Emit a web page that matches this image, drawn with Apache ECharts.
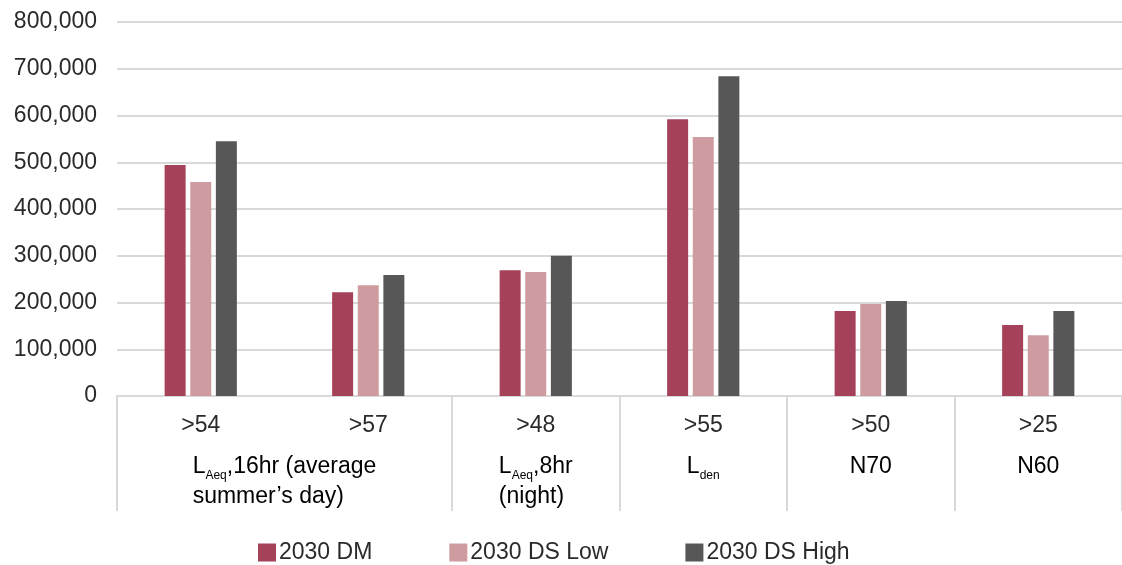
<!DOCTYPE html>
<html>
<head>
<meta charset="utf-8">
<script src="https://cdn.jsdelivr.net/npm/echarts@6/dist/echarts.min.js"></script>
<style>
html,body{margin:0;padding:0;background:#fff;}
#chart{width:1122px;height:565px;}
</style>
</head>
<body>
<div id="chart"></div>
<script>
// ---- data ----
const categories = ['>54', '>57', '>48', '>55', '>50', '>25'];
const seriesNames = ['2030 DM', '2030 DS Low', '2030 DS High'];
const dm     = [494000, 222000, 269000, 592000, 182000, 152000];
const dsLow  = [458000, 237000, 265000, 554000, 197000, 130000];
const dsHigh = [545000, 259000, 300000, 684000, 203000, 182000];
// second-level group labels: first and last category index, rich text
const groupFrom   = [0, 2, 3, 4, 5];
const groupTo     = [1, 2, 3, 4, 5];
const groupLabels = [
  '{n|L}{s|Aeq}{n|,16hr (average}\n{n|summer\u2019s day)}',
  '{n|L}{s|Aeq}{n|,8hr}\n{n|(night)}',
  '{n|L}{s|den}',
  '{n|N70}',
  '{n|N60}'
];
const yMax = 800000, yStep = 100000;

const FONT = '"Liberation Sans", Arial, sans-serif';
const TXT = '#2a2a2a';
const GRID = '#d9d9d9';
const colors = ['#a54158', '#ce9ca0', '#575757'];

const chart = echarts.init(document.getElementById('chart'), null, {renderer: 'canvas'});

const mk = (name, data, i) => ({
  name, type: 'bar', data,
  barWidth: 21, barGap: '22%',
  itemStyle: {color: colors[i]},
  emphasis: {disabled: true}
});

chart.setOption({
  animation: false,
  color: colors,
  textStyle: {fontFamily: FONT},
  grid: {left: 117, right: 0, top: 22, bottom: 169, containLabel: false},
  legend: {
    left: 253, top: 536,
    itemWidth: 18, itemHeight: 18, itemGap: 77,
    icon: 'rect',
    textStyle: {fontFamily: FONT, fontSize: 23, color: TXT, padding: [0, 0, 0, -2]},
    data: seriesNames
  },
  xAxis: {
    type: 'category',
    data: categories,
    axisLine: {show: true, lineStyle: {color: GRID, width: 2}},
    axisTick: {
      show: true, length: 115,
      lineStyle: {color: GRID, width: 2},
      interval: function (i) { return i !== 1; }
    },
    axisLabel: {fontFamily: FONT, fontSize: 23, color: TXT, margin: 18}
  },
  yAxis: {
    type: 'value', min: 0, max: yMax, interval: yStep,
    axisLine: {show: false}, axisTick: {show: false},
    splitLine: {lineStyle: {color: GRID, width: 2}},
    axisLabel: {
      fontFamily: FONT, fontSize: 23, color: TXT, margin: 20,
      formatter: v => v.toLocaleString('en-US')
    }
  },
  series: [mk(seriesNames[0], dm, 0), mk(seriesNames[1], dsLow, 1), mk(seriesNames[2], dsHigh, 2)]
});

// second-level labels positioned from the category axis
const rich = {
  n: {fontFamily: FONT, fontSize: 23, color: TXT, lineHeight: 30},
  s: {fontFamily: FONT, fontSize: 12, color: TXT, lineHeight: 20, verticalAlign: 'bottom'}
};
const ctx = document.createElement('canvas').getContext('2d');
function lineWidth(line) {
  let w = 0; const re = /\{(\w)\|([^}]*)\}/g; let m;
  while ((m = re.exec(line))) {
    const st = rich[m[1]];
    ctx.font = st.fontSize + 'px ' + FONT;
    w += ctx.measureText(m[2]).width;
  }
  return w;
}
const y0 = chart.convertToPixel({yAxisIndex: 0}, 0);
const graphics = groupLabels.map((txt, k) => {
  const xa = chart.convertToPixel({xAxisIndex: 0}, groupFrom[k]);
  const xb = chart.convertToPixel({xAxisIndex: 0}, groupTo[k]);
  const cx = (xa + xb) / 2;
  const w = Math.max(...txt.split('\n').map(lineWidth));
  return {
    type: 'text', x: cx - w / 2, y: y0 + 56,
    silent: true,
    style: {text: txt, rich, textAlign: 'left', textVerticalAlign: 'top'}
  };
});
chart.setOption({graphic: graphics});
</script>
</body>
</html>
